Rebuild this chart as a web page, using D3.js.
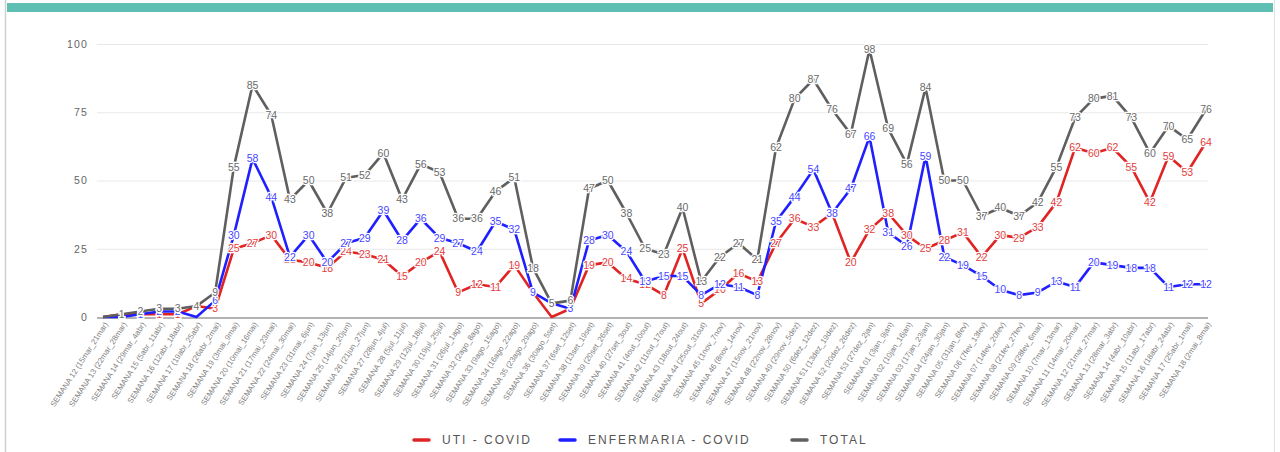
<!DOCTYPE html>
<html>
<head>
<meta charset="utf-8">
<script src="https://cdn.jsdelivr.net/npm/d3@7/dist/d3.min.js"></script>
<style>
  html, body { margin: 0; padding: 0; background: #fff; }
  svg { display: block; font-family: "Liberation Sans", Arial, sans-serif; }
</style>
</head>
<body>
<svg id="chart" width="1280" height="452"></svg>
<script>
const categories = [
  "SEMANA 12 (15mar_21mar)", "SEMANA 13 (22mar_28mar)", "SEMANA 14 (29mar_4abr)", "SEMANA 15 (5abr_11abr)",
  "SEMANA 16 (12abr_18abr)", "SEMANA 17 (19abr_25abr)", "SEMANA 18 (26abr_2mai)", "SEMANA 19 (3mai_9mai)",
  "SEMANA 20 (10mai_16mai)", "SEMANA 21 (17mai_23mai)", "SEMANA 22 (24mai_30mai)", "SEMANA 23 (31mai_6jun)",
  "SEMANA 24 (7jun_13jun)", "SEMANA 25 (14jun_20jun)", "SEMANA 26 (21jun_27jun)", "SEMANA 27 (28jun_4jul)",
  "SEMANA 28 (5jul_11jul)", "SEMANA 29 (12jul_18jul)", "SEMANA 30 (19jul_25jul)", "SEMANA 31 (26jul_1ago)",
  "SEMANA 32 (2ago_8ago)", "SEMANA 33 (9ago_15ago)", "SEMANA 34 (16ago_22ago)", "SEMANA 35 (23ago_29ago)",
  "SEMANA 36 (30ago_5set)", "SEMANA 37 (6set_12set)", "SEMANA 38 (13set_19set)", "SEMANA 39 (20set_26set)",
  "SEMANA 40 (27set_3out)", "SEMANA 41 (4out_10out)", "SEMANA 42 (11out_17out)", "SEMANA 43 (18out_24out)",
  "SEMANA 44 (25out_31out)", "SEMANA 45 (1nov_7nov)", "SEMANA 46 (8nov_14nov)", "SEMANA 47 (15nov_21nov)",
  "SEMANA 48 (22nov_28nov)", "SEMANA 49 (29nov_5dez)", "SEMANA 50 (6dez_12dez)", "SEMANA 51 (13dez_19dez)",
  "SEMANA 52 (20dez_26dez)", "SEMANA 53 (27dez_2jan)", "SEMANA 01 (3jan_9jan)", "SEMANA 02 (10jan_16jan)",
  "SEMANA 03 (17jan_23jan)", "SEMANA 04 (24jan_30jan)", "SEMANA 05 (31jan_6fev)", "SEMANA 06 (7fev_13fev)",
  "SEMANA 07 (14fev_20fev)", "SEMANA 08 (21fev_27fev)", "SEMANA 09 (28fev_6mar)", "SEMANA 10 (7mar_13mar)",
  "SEMANA 11 (14mar_20mar)", "SEMANA 12 (21mar_27mar)", "SEMANA 13 (28mar_3abr)", "SEMANA 14 (4abr_10abr)",
  "SEMANA 15 (11abr_17abr)", "SEMANA 16 (18abr_24abr)", "SEMANA 17 (25abr_1mai)", "SEMANA 18 (2mai_8mai)"
];

const utiCovid = [
  0, 1, 1, 1, 1, 4, 3, 25, 27, 30, 21, 20, 18, 24, 23, 21, 15, 20, 24, 9,
  12, 11, 19, 9, 0, 3, 19, 20, 14, 12, 8, 25, 5, 10, 16, 13, 27, 36, 33, 38,
  20, 32, 38, 30, 25, 28, 31, 22, 30, 29, 33, 42, 62, 60, 62, 55, 42, 59, 53, 64
];

const enfermariaCovid = [
  0, 0, 1, 2, 2, 0, 6, 30, 58, 44, 22, 30, 20, 27, 29, 39, 28, 36, 29, 27,
  24, 35, 32, 9, 5, 3, 28, 30, 24, 13, 15, 15, 8, 12, 11, 8, 35, 44, 54, 38,
  47, 66, 31, 26, 59, 22, 19, 15, 10, 8, 9, 13, 11, 20, 19, 18, 18, 11, 12, 12
];

const total = [
  0, 1, 2, 3, 3, 4, 9, 55, 85, 74, 43, 50, 38, 51, 52, 60, 43, 56, 53, 36,
  36, 46, 51, 18, 5, 6, 47, 50, 38, 25, 23, 40, 13, 22, 27, 21, 62, 80, 87, 76,
  67, 98, 69, 56, 84, 50, 50, 37, 40, 37, 42, 55, 73, 80, 81, 73, 60, 70, 65, 76
];

const yTicks = [0, 25, 50, 75, 100];

const seriesNames = ["UTI - COVID", "ENFERMARIA - COVID", "TOTAL"];
const seriesColors = ["#e02424", "#1f1fff", "#5f5f5f"];
const labelColors = ["#e23c3c", "#4646ff", "#6a6a6a"];

const series = [utiCovid, enfermariaCovid, total].map((values, i) => ({
  name: seriesNames[i], color: seriesColors[i], labelColor: labelColors[i], values
}));

const svg = d3.select("#chart");

// frame
svg.append("rect").attr("x", 0).attr("y", 0).attr("width", 1280).attr("height", 452).attr("fill", "#fff");
svg.append("line").attr("x1", 5.5).attr("x2", 5.5).attr("y1", 0).attr("y2", 452).attr("stroke", "#cfcfcf").attr("stroke-width", 1.5);
svg.append("line").attr("x1", 1274.5).attr("x2", 1274.5).attr("y1", 0).attr("y2", 452).attr("stroke", "#e2e2e2").attr("stroke-width", 1);
svg.append("rect").attr("x", 7).attr("y", 3).attr("width", 1266).attr("height", 9).attr("fill", "#5ebfb2");

const x = d3.scalePoint().domain(d3.range(categories.length)).range([103, 1206]);
const y = d3.scaleLinear().domain([0, 100]).range([317, 44]);

// grid
const grid = svg.append("g");
grid.selectAll("line").data(yTicks.filter(d => d > 0)).join("line")
  .attr("x1", 97).attr("x2", 1208)
  .attr("y1", d => y(d) + 0.5).attr("y2", d => y(d) + 0.5)
  .attr("stroke", "#e8e8e8").attr("stroke-width", 1);

// y axis labels
const yAxis = d3.axisLeft(y).tickValues(yTicks).tickSize(0).tickPadding(0).tickFormat(d3.format("d"));
const yg = svg.append("g").attr("transform", "translate(88,0)").call(yAxis);
yg.select(".domain").remove();
yg.selectAll("text").attr("fill", "#666").attr("font-size", 10.5)
  .attr("letter-spacing", 1.2)
  .attr("font-family", "Liberation Sans, Arial, sans-serif");

// baseline
svg.append("line").attr("x1", 97).attr("x2", 1208).attr("y1", y(0) + 1).attr("y2", y(0) + 1)
  .attr("stroke", "#b3b3b3").attr("stroke-width", 2);

// x axis labels
const xAxis = d3.axisBottom(x).tickSize(0).tickPadding(0).tickFormat(i => categories[i]);
const xg = svg.append("g").attr("transform", `translate(0,${y(0) + 6})`).call(xAxis);
xg.select(".domain").remove();
xg.selectAll("text")
  .attr("fill", "#808080")
  .attr("font-size", 7.8)
  .attr("font-family", "Liberation Sans, Arial, sans-serif")
  .attr("text-anchor", "end")
  .attr("dy", "0.3em")
  .attr("transform", "translate(3,0) rotate(-57)");

// lines
const line = d3.line().x((d, i) => x(i)).y(d => y(d));
const lines = svg.append("g");
lines.selectAll("path").data(series).join("path")
  .attr("d", s => line(s.values))
  .attr("fill", "none")
  .attr("stroke", s => s.color)
  .attr("stroke-width", 2.6)
  .attr("stroke-linejoin", "round");

// data labels
const labels = svg.append("g");
series.forEach(s => {
  labels.append("g").selectAll("text").data(s.values.map((v, i) => ({ v, i }))).join("text")
    .filter(d => d.v > 0)
    .attr("x", d => x(d.i))
    .attr("y", d => y(d.v))
    .attr("dy", "0.35em")
    .attr("text-anchor", "middle")
    .attr("font-size", 10.5)
    .attr("fill", s.labelColor)
    .attr("stroke", "#fff")
    .attr("stroke-width", 2.5)
    .attr("paint-order", "stroke")
    .text(d => d.v);
});

// legend
const legendX = [414, 560, 792];
const lg = svg.append("g");
series.forEach((s, i) => {
  const g = lg.append("g").attr("transform", `translate(${legendX[i]},440)`);
  g.append("line").attr("x1", 0).attr("x2", 15).attr("y1", 0).attr("y2", 0)
    .attr("stroke", s.color).attr("stroke-width", 3.5).attr("stroke-linecap", "round");
  g.append("text").attr("x", 28).attr("y", 0).attr("dy", "0.35em")
    .attr("font-size", 12).attr("fill", "#555").attr("letter-spacing", 2)
    .text(s.name);
});
</script>
</body>
</html>
